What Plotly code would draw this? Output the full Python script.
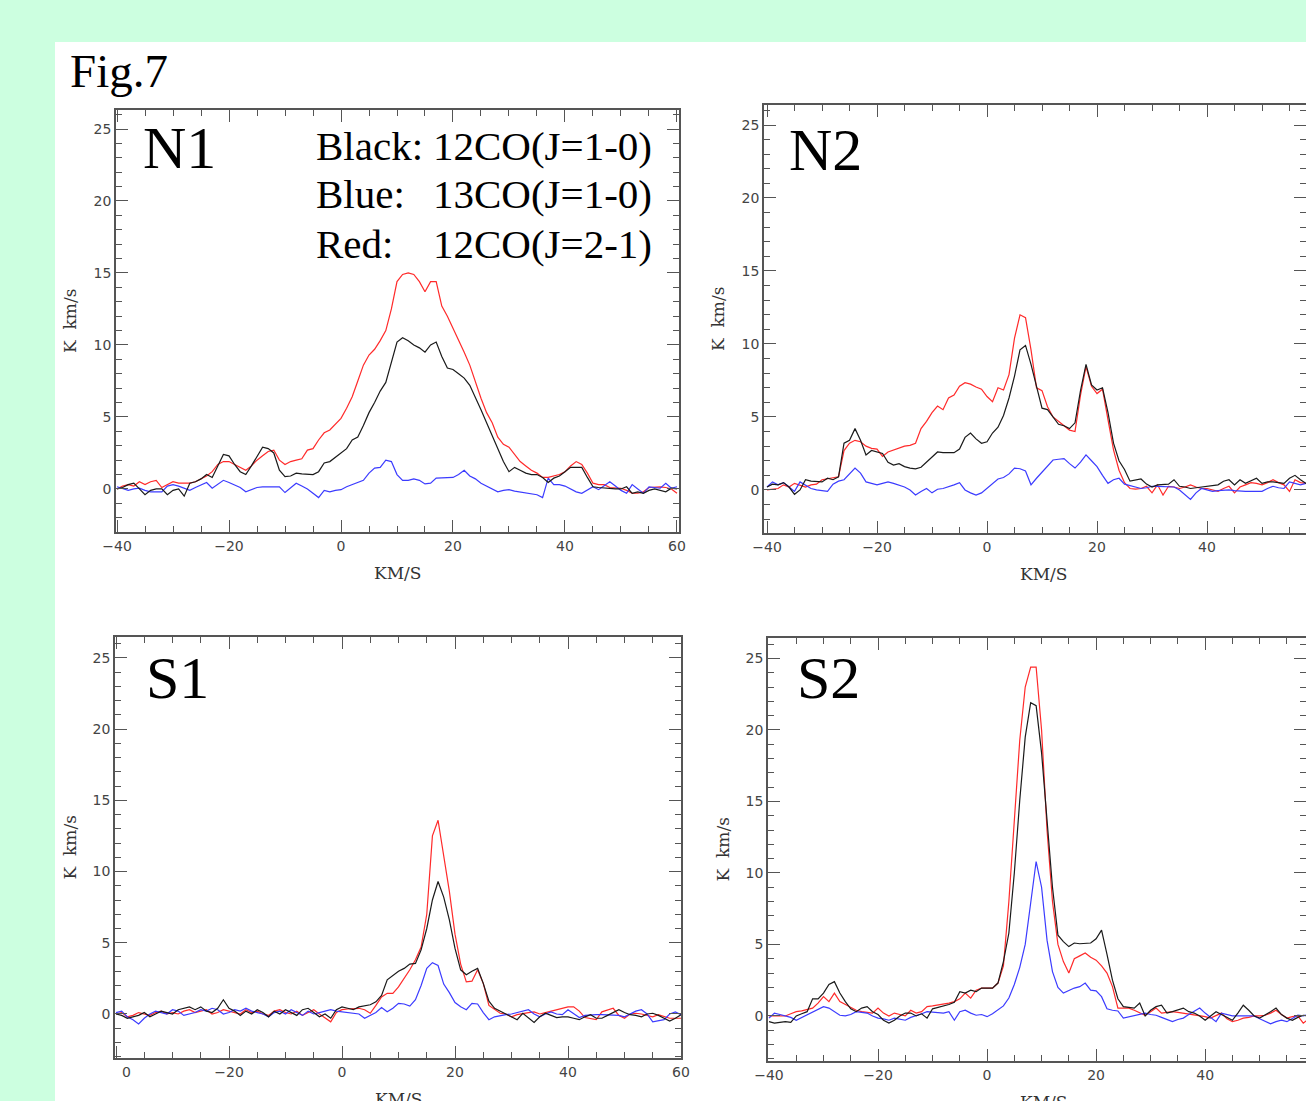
import plotly.graph_objects as go

# Velocity channels (km/s), one per km/s from -40 to 60
velocity = list(range(-40, 61))

# ---- N1 ----
n1_12co10 = [0, 0.1, 0.3, 0.4, 0.0, -0.4, -0.1, 0.0, 0.0, -0.4,
             -0.1, 0.0, -0.5, 0.4, 0.5, 0.7, 1.0, 0.8, 1.6, 2.4,
             2.3, 1.7, 1.2, 1.0, 1.6, 2.3, 2.9, 2.8, 2.5, 1.3,
             0.85, 0.9, 1.1, 1.05, 1.0, 1.0, 1.2, 1.8, 1.9, 2.2,
             2.5, 2.8, 3.4, 3.6, 4.4, 5.3, 6.0, 6.8, 7.4, 8.8,
             10.2, 10.5, 10.3, 10.0, 9.8, 9.5, 10.0, 10.2, 9.2, 8.4,
             8.3, 8.0, 7.7, 7.2, 6.4, 5.5, 4.6, 3.7, 2.8, 1.9,
             1.2, 1.5, 1.3, 1.1, 1.0, 1.0, 0.8, 0.45, 0.75, 0.9,
             1.2, 1.5, 1.5, 1.5, 0.8, 0.15, 0.1, 0.05, 0.0, 0.0,
             0.0, 0.15, -0.3, -0.2, -0.3, -0.1, 0.0, -0.1, -0.2, 0.05,
             0.0]
n1_12co21 = [0, 0.2, 0.3, 0.2, 0.5, 0.3, 0.5, 0.6, 0.1, 0.3,
             0.5, 0.4, 0.4, 0.4, 0.5, 0.7, 0.9, 1.2, 1.7, 1.9,
             1.9, 1.7, 1.5, 1.3, 1.6, 2.0, 2.3, 2.6, 2.7, 2.0,
             1.7, 1.9, 2.0, 2.1, 2.7, 2.8, 3.4, 3.9, 4.1, 4.5,
             4.9, 5.6, 6.4, 7.5, 8.6, 9.3, 9.7, 10.3, 11.0, 12.5,
             14.4, 14.9, 15.0, 14.9, 14.4, 13.7, 14.4, 14.4, 12.7, 12.0,
             11.2, 10.4, 9.5, 8.6, 7.4, 6.3, 5.3, 4.6, 3.6, 3.1,
             2.9, 2.4, 1.9, 1.6, 1.3, 1.1, 0.8, 0.8, 0.9, 1.0,
             1.2, 1.6, 1.9, 1.7, 1.1, 0.4, 0.3, 0.3, 0.1, 0.05,
             0.05, -0.1, -0.3, -0.3, -0.2, 0.1, 0.15, 0.15, 0.1, 0.0,
             -0.3]
n1_13co10 = [0.15, 0.0, -0.1, 0.0, 0.05, -0.1, -0.2, -0.2, -0.2, 0.2,
             0.3, 0.2, 0.05, -0.1, 0.1, 0.3, 0.45, 0.05, 0.3, 0.6,
             0.45, 0.3, 0.1, -0.2, -0.05, 0.1, 0.15, 0.15, 0.15, 0.15,
             -0.25, 0.1, 0.4, 0.2, 0.0, -0.3, -0.6, -0.1, -0.2, -0.1,
             -0.05, 0.15, 0.3, 0.45, 0.6, 1.1, 1.45, 1.5, 2.0, 1.9,
             1.0, 0.6, 0.6, 0.7, 0.6, 0.35, 0.4, 0.75, 0.75, 0.75,
             0.8, 1.0, 1.3, 0.9, 0.7, 0.4, 0.2, 0.0, -0.2, -0.1,
             -0.05, -0.15, -0.2, -0.25, -0.3, -0.4, -0.6, 0.75, 0.3, 0.3,
             0.2, 0.0, -0.2, -0.3, -0.1, 0.15, -0.05, 0.2, 0.5, 0.2,
             -0.1, -0.3, 0.3, 0.0, -0.3, 0.15, 0.1, 0.05, 0.4, 0.05,
             0.15]

# ---- N2 ----
n2_12co10 = [0.2, 0.4, 0.35, 0.5, 0.2, -0.3, 0.0, 0.7, 0.6, 0.55,
             0.55, 0.8, 0.7, 0.9, 3.2, 3.4, 4.2, 3.4, 2.4, 2.7,
             2.6, 2.5, 1.9, 1.7, 1.8, 1.6, 1.5, 1.45, 1.55, 1.9,
             2.3, 2.6, 2.55, 2.55, 2.55, 2.8, 3.6, 3.9, 3.5, 3.2,
             3.3, 3.9, 4.3, 5.1, 6.3, 7.8, 9.6, 9.9, 8.6, 7.1,
             5.6, 5.5, 5.0, 4.5, 4.4, 4.2, 4.6, 6.8, 8.6, 7.2,
             6.85, 7.0, 5.3, 3.2, 2.0, 1.4, 0.6, 0.65, 0.75, 0.4,
             0.2, 0.35, 0.35, 0.4, 0.7, 0.25, 0.2, 0.1, 0.15, 0.2,
             0.25, 0.3, 0.35, 0.6, 0.7, 0.35, 0.7, 0.45, 0.6, 0.8,
             0.45, 0.55, 0.55, 0.5, 0.45, 0.8, 1.0, 0.7, 0.45, 0.4,
             0.4]
n2_12co21 = [0.0, 0.05, 0.1, 0.35, 0.2, 0.45, 0.3, 0.2, 0.35, 0.4,
             0.7, 0.75, 0.8, 0.9, 2.7, 3.2, 3.4, 3.3, 3.0, 2.85,
             2.8, 2.3, 2.6, 2.75, 2.9, 3.0, 3.05, 3.2, 4.2, 4.7,
             5.3, 5.75, 5.5, 6.3, 6.5, 7.1, 7.35, 7.25, 7.05, 6.9,
             6.4, 6.05, 7.0, 6.85, 7.9, 10.4, 12.0, 11.8, 9.6, 7.0,
             6.8, 5.7, 5.0, 4.7, 4.4, 4.1, 4.0, 6.5, 8.45, 7.1,
             6.6, 6.9, 4.8, 2.75, 1.35, 0.5, 0.1, 0.05, 0.1, 0.25,
             -0.2, 0.35, -0.35, 0.25, 0.2, 0.1, 0.2, 0.35, 0.2, 0.1,
             0.1, 0.0, -0.1, 0.1, 0.25, -0.2, 0.2, 0.35, 0.5, 0.45,
             0.35, 0.5, 0.7, 0.5, 0.35, -0.1, 0.7, 0.5, 0.45, 0.4,
             0.35]
n2_13co10 = [0.2, 0.55, 0.35, 0.5, 0.2, -0.1, 0.55, 0.35, 0.1, 0.0,
             -0.05, -0.1, 0.4, 0.6, 0.7, 1.1, 1.5, 1.15, 0.55, 0.45,
             0.35, 0.45, 0.55, 0.45, 0.35, 0.2, 0.0, -0.35, -0.1, 0.1,
             -0.2, 0.05, 0.1, 0.2, 0.35, 0.5, 0.0, -0.2, -0.35, -0.2,
             0.1, 0.4, 0.75, 0.85, 1.1, 1.5, 1.45, 1.3, 0.35, 0.8,
             1.2, 1.6, 2.05, 2.1, 2.15, 1.8, 1.5, 1.9, 2.4, 2.0,
             1.6, 1.0, 0.45, 0.7, 0.8, 0.4, 0.3, 0.2, 0.1, 0.15,
             0.25, 0.25, 0.25, 0.25, 0.2, 0.0, -0.3, -0.65, -0.2, 0.1,
             0.0, -0.1, -0.05, 0.0, 0.0, -0.05, -0.1, -0.1, -0.1, -0.1,
             -0.1, 0.1, 0.25, 0.15, 0.1, 0.55, 0.45, 0.35, 0.45, 0.4,
             0.4]

# ---- S1 ----
s1_12co10 = [0.0, -0.1, -0.3, -0.2, -0.1, 0.1, -0.2, 0.0, 0.2, 0.1,
             0.0, 0.3, 0.4, 0.5, 0.3, 0.5, 0.2, 0.1, 0.4, 1.0,
             0.4, 0.2, -0.1, 0.2, 0.0, 0.3, 0.1, -0.2, 0.2, 0.0,
             0.3, 0.1, -0.1, 0.3, 0.4, 0.1, -0.2, 0.0, -0.3, 0.3,
             0.5, 0.4, 0.3, 0.5, 0.55, 0.65, 0.85, 1.3, 2.4, 2.7,
             3.0, 3.2, 3.5, 3.55, 4.5, 6.0, 8.0, 9.3, 8.2, 6.6,
             4.6, 3.1, 2.75, 3.0, 3.2, 2.15, 0.9, 0.4, 0.2, 0.0,
             -0.2, -0.4, 0.05, -0.3, -0.6, -0.2, 0.05, -0.1, -0.25, -0.2,
             -0.2, -0.3, -0.4, -0.2, -0.05, -0.3, -0.3, -0.1, 0.1, 0.3,
             0.1, -0.05, -0.1, -0.2, 0.0, 0.05, -0.1, -0.3, -0.5, -0.3,
             -0.05]
s1_12co21 = [0.0, 0.1, -0.2, -0.1, 0.1, 0.0, -0.1, 0.1, 0.2, 0.0,
             0.1, 0.0, 0.2, 0.3, 0.1, 0.2, 0.3, 0.0, 0.1, 0.3,
             0.2, 0.1, 0.0, 0.3, 0.1, 0.2, 0.0, -0.1, 0.2, 0.3,
             0.1, 0.0, 0.2, -0.1, 0.1, 0.3, 0.0, -0.3, -0.55, 0.1,
             0.3, 0.35, 0.35, 0.4, 0.3, 0.05, 0.6, 1.2, 1.45, 1.45,
             1.9, 2.5, 3.1, 3.8, 4.7, 7.0, 12.5, 13.6, 11.2, 8.6,
             5.6, 3.5, 2.25, 2.3, 3.1, 2.15, 0.6, 0.3, 0.05, 0.0,
             -0.2, -0.05, 0.05, 0.1, 0.15, 0.0, 0.1, 0.2, 0.3, 0.45,
             0.5, 0.5, 0.2, -0.25, -0.3, -0.4, 0.15, 0.3, 0.4, -0.1,
             -0.3, 0.0, 0.05, 0.0, -0.1, -0.2, -0.05, -0.2, -0.3, -0.3,
             -0.3]
s1_13co10 = [0.1, 0.2, -0.2, -0.4, -0.7, -0.3, 0.0, 0.2, 0.1, 0.0,
             0.3, 0.2, -0.1, 0.0, 0.1, 0.3, 0.2, 0.4, 0.3, 0.0,
             0.1, 0.3, 0.2, 0.4, 0.2, 0.1, 0.0, -0.2, 0.1, 0.2,
             0.0, 0.3, 0.1, -0.1, 0.2, 0.0, 0.1, 0.2, 0.3, 0.2,
             0.15, 0.05, 0.05, 0.0, -0.3, -0.1, 0.1, 0.45, 0.15, 0.4,
             0.75, 0.7, 0.55, 1.0, 2.0, 3.2, 3.6, 3.4, 2.1, 1.5,
             0.8, 0.5, 0.3, 0.75, 0.7, 0.1, -0.4, -0.2, -0.1, -0.05,
             0.0, 0.1, 0.2, 0.3, 0.0, -0.2, 0.0, 0.15, 0.0, -0.05,
             0.3, 0.0, -0.25, -0.1, -0.05, -0.05, -0.05, -0.05, -0.05, -0.1,
             -0.2, 0.0, 0.2, 0.3, 0.0, -0.55, -0.5, -0.4, 0.0, 0.15,
             -0.05]

# ---- S2 ----
s2_12co10 = [-0.4, -0.5, -0.45, -0.4, -0.45, 0.0, 0.15, 0.3, 1.2, 1.2,
             1.6, 2.2, 2.4, 1.6, 1.0, 0.5, 0.3, 0.55, 0.65, 0.3,
             0.1, -0.3, -0.5, -0.3, 0.0, 0.2, 0.2, 0.0, 0.15, -0.15,
             0.5, 0.6, 0.65, 0.8, 0.95, 1.7, 1.6, 1.8, 1.7, 1.95,
             1.95, 1.95, 2.3, 3.8, 5.8, 10.0, 15.1, 19.5, 21.9, 21.7,
             18.4, 13.8, 9.0, 5.65, 5.2, 4.85, 5.1, 5.05, 5.05, 5.1,
             5.4, 6.0, 4.3, 2.5, 1.2, 0.65, 0.6, 0.55, 0.9, 0.0,
             0.4, 0.65, 0.75, 0.2, 0.3, 0.45, 0.55, 0.3, 0.2, 0.0,
             -0.3, 0.0, 0.3, 0.1, -0.1, -0.3, 0.2, 0.75, 0.4, 0.0,
             -0.15, 0.05, 0.3, 0.55, 0.1, -0.15, -0.3, -0.1, 0.05, 0.0,
             0.05]
s2_12co21 = [0.0, 0.0, 0.0, 0.0, 0.15, 0.3, 0.35, 0.45, 0.55, 0.9,
             1.35, 1.0, 1.6, 1.0, 0.8, 0.55, 0.4, 0.3, 0.25, 0.2,
             0.55, 0.2, 0.0, 0.2, 0.1, 0.0, 0.4, 0.2, 0.3, 0.65,
             0.7, 0.75, 0.8, 0.9, 1.0, 1.2, 1.6, 1.25, 1.8, 1.95,
             1.95, 1.95, 2.3, 3.5, 8.0, 13.9, 19.3, 23.0, 24.4, 24.4,
             20.0, 13.0, 8.0, 5.0, 3.8, 3.0, 4.0, 4.2, 4.4, 4.1,
             3.9, 3.5, 3.0, 2.05, 0.55, 0.55, 0.55, 0.4, 0.2, 0.05,
             0.3, 0.55, 0.2, 0.25, 0.3, 0.25, 0.2, 0.1, 0.05, 0.0,
             -0.05, -0.15, 0.0, 0.2, -0.2, -0.4, -0.3, -0.15, -0.1, 0.0,
             0.0, 0.05, 0.2, 0.4, 0.1, -0.15, -0.05, 0.0, -0.5, -0.2,
             -0.1]
s2_13co10 = [-0.15, 0.2, 0.1, 0.0, -0.1, -0.3, -0.1, 0.05, 0.3, 0.5,
             0.65, 0.55, 0.3, 0.05, 0.0, 0.1, 0.3, 0.25, 0.2, 0.0,
             -0.15, -0.2, -0.3, -0.15, -0.2, -0.3, -0.1, 0.0, 0.15, 0.3,
             0.25, 0.2, 0.2, 0.3, -0.3, 0.3, 0.4, 0.2, 0.05, 0.1,
             -0.05, 0.15, 0.4, 0.7, 1.25, 2.2, 3.4, 5.0, 7.9, 10.8,
             9.0, 5.3, 3.1, 2.0, 1.6, 1.8, 1.95, 2.05, 2.3, 1.8,
             1.75, 1.35, 0.5, 0.4, 0.35, -0.15, -0.05, 0.0, 0.1, 0.2,
             0.1, 0.05, -0.1, -0.25, -0.4, -0.25, -0.15, 0.1, 0.3, 0.55,
             0.2, -0.1, -0.4, 0.2, 0.1, 0.0, 0.0, 0.0, 0.0, 0.0,
             -0.2, -0.4, -0.55, -0.4, -0.3, -0.4, -0.2, 0.05, 0.0, 0.1,
             0.1]

x_tickvals = [-40, -20, 0, 20, 40, 60]
x_ticktext = ["\u221240", "\u221220", "0", "20", "40", "60"]
# the first label of S1 is drawn with its leading characters hidden
s1_ticktext = ["<span style='color:white'>\u22124</span>0", "\u221220", "0", "20", "40", "60"]

W, H = 1306, 1101
BG = "#CCFFE0"
FRAME = "#555555"
TICKFONT = dict(family="DejaVu Sans, Arial, sans-serif", size=14, color="#444444")
SERIF = "Liberation Serif, Times New Roman, serif"
AXFONT = dict(family="DejaVu Serif, serif", size=17, color="#333333")

# panel frames in pixels: (left, right, top, bottom) and axis ranges
panels = [
    dict(name="N1", px=(116, 679, 110, 532), xr=(-40.18, 60.36), yr=(-2.99, 26.32),
         y1=n1_12co10, y2=n1_13co10, y3=n1_12co21, ticktext=x_ticktext, title_x=397),
    dict(name="N2", px=(764, 1306, 105, 533), xr=(-40.55, 58.0), yr=(-2.95, 26.37),
         y1=n2_12co10, y2=n2_13co10, y3=n2_12co21, ticktext=x_ticktext, title_x=1043),
    dict(name="S1", px=(115, 681, 637, 1058), xr=(-40.18, 60.0), yr=(-3.09, 26.46),
         y1=s1_12co10, y2=s1_13co10, y3=s1_12co21, ticktext=s1_ticktext, title_x=398),
    dict(name="S2", px=(768, 1306, 638, 1061), xr=(-40.18, 58.5), yr=(-3.15, 26.43),
         y1=s2_12co10, y2=s2_13co10, y3=s2_12co21, ticktext=x_ticktext, title_x=1043),
]


def px_x(p):
    return p / W


def px_y(p):
    return 1 - p / H


fig = go.Figure()
layout_axes = {}
annotations = []

for i, pn in enumerate(panels, start=1):
    suffix = "" if i == 1 else str(i)
    xa, ya = "x" + suffix, "y" + suffix
    l, r, t, b = pn["px"]
    # 12CO(2-1) red, 13CO(1-0) blue, 12CO(1-0) black
    fig.add_trace(go.Scatter(x=velocity, y=pn["y3"], mode="lines", xaxis=xa, yaxis=ya,
                             line=dict(color="#FF2A2A", width=1.2), showlegend=False))
    fig.add_trace(go.Scatter(x=velocity, y=pn["y2"], mode="lines", xaxis=xa, yaxis=ya,
                             line=dict(color="#3B3BFF", width=1.2), showlegend=False))
    fig.add_trace(go.Scatter(x=velocity, y=pn["y1"], mode="lines", xaxis=xa, yaxis=ya,
                             line=dict(color="#1A1A1A", width=1.2), showlegend=False))

    layout_axes["xaxis" + suffix] = dict(
        domain=[px_x(l), px_x(r)], range=list(pn["xr"]), anchor=ya, automargin=False,
        showline=True, linecolor=FRAME, linewidth=1.5, mirror="ticks",
        ticks="inside", ticklen=12, tickwidth=1.2, tickcolor=FRAME,
        tickmode="array", tickvals=x_tickvals, ticktext=pn["ticktext"],
        minor=dict(ticks="inside", ticklen=6, dtick=5, tick0=0, tickwidth=1.2, tickcolor=FRAME),
        showgrid=False, zeroline=False, tickfont=TICKFONT, fixedrange=True,
    )
    layout_axes["yaxis" + suffix] = dict(
        domain=[px_y(b), px_y(t)], range=list(pn["yr"]), anchor=xa, automargin=False,
        showline=True, linecolor=FRAME, linewidth=1.5, mirror="ticks",
        ticks="inside", ticklen=12, tickwidth=1.2, tickcolor=FRAME,
        tick0=0, dtick=5,
        minor=dict(ticks="inside", ticklen=6, dtick=1, tick0=0, tickwidth=1.2, tickcolor=FRAME),
        showgrid=False, zeroline=False, tickfont=TICKFONT, fixedrange=True,
    )

    # axis titles
    annotations.append(dict(text="KM/S", x=px_x(pn["title_x"]), y=px_y(b + 41),
                            xref="paper", yref="paper", showarrow=False,
                            xanchor="center", yanchor="middle", font=AXFONT))
    annotations.append(dict(text="K\u00a0\u00a0km/s", x=px_x(l - 46), y=px_y((t + b) / 2),
                            xref="paper", yref="paper", showarrow=False, textangle=-90,
                            xanchor="center", yanchor="middle", font=AXFONT))

# panel names
for name, xpx, ypx in [("N1", 141, 148), ("N2", 787, 150), ("S1", 144, 678), ("S2", 795, 678)]:
    annotations.append(dict(text=name, x=px_x(xpx), y=px_y(ypx), xref="paper", yref="paper",
                            showarrow=False, xanchor="left", yanchor="middle",
                            font=dict(family=SERIF, size=60, color="black")))

# figure label
annotations.append(dict(text="Fig.7", x=px_x(68), y=px_y(71), xref="paper", yref="paper",
                        showarrow=False, xanchor="left", yanchor="middle",
                        font=dict(family=SERIF, size=47, color="black")))

# line key
key_rows = [("Black:", "12CO(J=1-0)", 146), ("Blue:", "13CO(J=1-0)", 194), ("Red:", "12CO(J=2-1)", 244)]
for lab, line, ypx in key_rows:
    annotations.append(dict(text=lab, x=px_x(314), y=px_y(ypx), xref="paper", yref="paper",
                            showarrow=False, xanchor="left", yanchor="middle",
                            font=dict(family=SERIF, size=41, color="black")))
    annotations.append(dict(text=line, x=px_x(431), y=px_y(ypx), xref="paper", yref="paper",
                            showarrow=False, xanchor="left", yanchor="middle",
                            font=dict(family=SERIF, size=41, color="black")))

fig.update_layout(
    width=W, height=H, autosize=False,
    margin=dict(l=0, r=0, t=0, b=0, pad=0, autoexpand=False),
    paper_bgcolor=BG, plot_bgcolor="white",
    shapes=[dict(type="rect", xref="paper", yref="paper", x0=55 / W, x1=1.0,
                 y0=0.0, y1=1 - 42 / H, fillcolor="white", line=dict(width=0), layer="below")],
    annotations=annotations,
    **layout_axes,
)

fig.write_html("out.html", config={"displayModeBar": False})
